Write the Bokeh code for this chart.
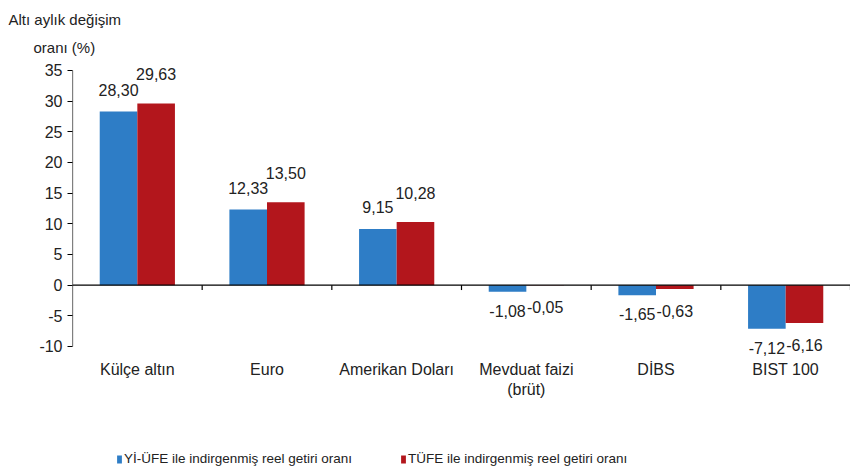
from bokeh.plotting import figure
from bokeh.models import ColumnDataSource, Legend, LegendItem, Title, FixedTicker, Span
from bokeh.transform import dodge
from bokeh.core.properties import value
from bokeh.embed import file_html
from bokeh.resources import INLINE

categories = ["Külçe altın", "Euro", "Amerikan Doları", "Mevduat faizi\n(brüt)", "DİBS", "BIST 100"]
yi_ufe = [28.30, 12.33, 9.15, -1.08, -1.65, -7.12]
tufe = [29.63, 13.50, 10.28, -0.05, -0.63, -6.16]
y_ticks = [-10, -5, 0, 5, 10, 15, 20, 25, 30, 35]
series_names = ["Yİ-ÜFE ile indirgenmiş reel getiri oranı", "TÜFE ile indirgenmiş reel getiri oranı"]
y_title = ["Altı aylık değişim", "oranı (%)"]

BLUE = "#2E7DC6"
RED = "#B3161C"
FONT = "Liberation Sans"
FS = "16px"
TXT = "#222222"

xs = [i + 0.5 for i in range(len(categories))]

def fmt(v):
    return f"{v:.2f}".replace(".", ",")

def src(vals, up_off, down_off):
    return ColumnDataSource(dict(
        x=xs, top=vals, lab=[fmt(v) for v in vals],
        base=["bottom" if v >= 0 else "top" for v in vals],
        yo=[up_off if v >= 0 else down_off for v in vals],
    ))

s1 = src(yi_ufe, -16, 13)
s2 = src(tufe, -23, 16)

# frame extends beyond the value axis to hold value labels, category labels and legend
p = figure(width=850, height=468, output_backend="svg", toolbar_location=None,
           x_range=(0, 6), y_range=(-29.9, 36.63), x_axis_location=None,
           min_border_left=72, min_border_right=0, min_border_top=60, min_border_bottom=0)
p.outline_line_color = None
p.grid.grid_line_color = None
p.background_fill_color = "white"
p.border_fill_color = "white"

bw = 0.29
r1 = p.vbar(x=dodge("x", -bw / 2, range=p.x_range), top="top", bottom=0, width=bw, source=s1,
            fill_color=BLUE, line_color=None)
r2 = p.vbar(x=dodge("x", bw / 2, range=p.x_range), top="top", bottom=0, width=bw, source=s2,
            fill_color=RED, line_color=None)

for s, dx in ((s1, -bw / 2), (s2, bw / 2)):
    p.text(x=dodge("x", dx, range=p.x_range), y="top", text="lab", source=s,
           text_align="center", text_baseline="base", y_offset="yo",
           text_font=value(FONT), text_font_size=FS, text_color=TXT)

# zero line with category-boundary ticks
p.add_layout(Span(location=0, dimension="width", line_color="black", line_width=1.2))
bounds = list(range(1, len(categories) + 1))
p.segment(x0=bounds, x1=bounds, y0=[0] * len(bounds), y1=[-0.8] * len(bounds),
          line_color="black", line_width=1.2)

# value axis line (only over the tick span)
p.segment(x0=[0], x1=[0], y0=[min(y_ticks)], y1=[max(y_ticks)], line_color="black", line_width=1.2)

# category labels below the value axis
cat_src = ColumnDataSource(dict(x=xs, y=[min(y_ticks)] * len(xs), t=categories))
p.text(x="x", y="y", text="t", source=cat_src, text_align="center", text_baseline="top",
       y_offset=15, text_font=value(FONT), text_font_size=FS, text_color=TXT,
       text_line_height=1.15)

# y axis
ya = p.yaxis[0]
ya.ticker = FixedTicker(ticks=y_ticks)
ya.major_label_overrides = {t: str(t) for t in y_ticks}
ya.axis_line_color = None
ya.major_tick_line_color = "black"
ya.major_tick_line_width = 1.2
ya.major_tick_in = 0
ya.major_tick_out = 5
ya.minor_tick_line_color = None
ya.major_label_standoff = 5
ya.major_label_text_font = FONT
ya.major_label_text_font_size = FS
ya.major_label_text_color = TXT

legend = Legend(items=[LegendItem(label=series_names[0], renderers=[r1]),
                       LegendItem(label=series_names[1], renderers=[r2])],
                orientation="horizontal", location=(44, 2),
                label_text_font=FONT, label_text_font_size="13.5px", label_text_color=TXT,
                glyph_width=6, glyph_height=10, label_standoff=2, spacing=48,
                border_line_color=None, background_fill_alpha=0, margin=0, padding=0)
p.add_layout(legend, "center")

# two-line value-axis title, second line indented to sit centred under the first
title_text = y_title[0] + "\n" + "\u00a0" * 6 + y_title[1]
t = Title(text=title_text, align="left", offset=-64, text_font=FONT,
          text_font_size="15px", text_font_style="normal", text_color=TXT,
          text_line_height=1.7, standoff=8)
p.add_layout(t, "above")

open("out.html", "w").write(file_html(p, INLINE))
